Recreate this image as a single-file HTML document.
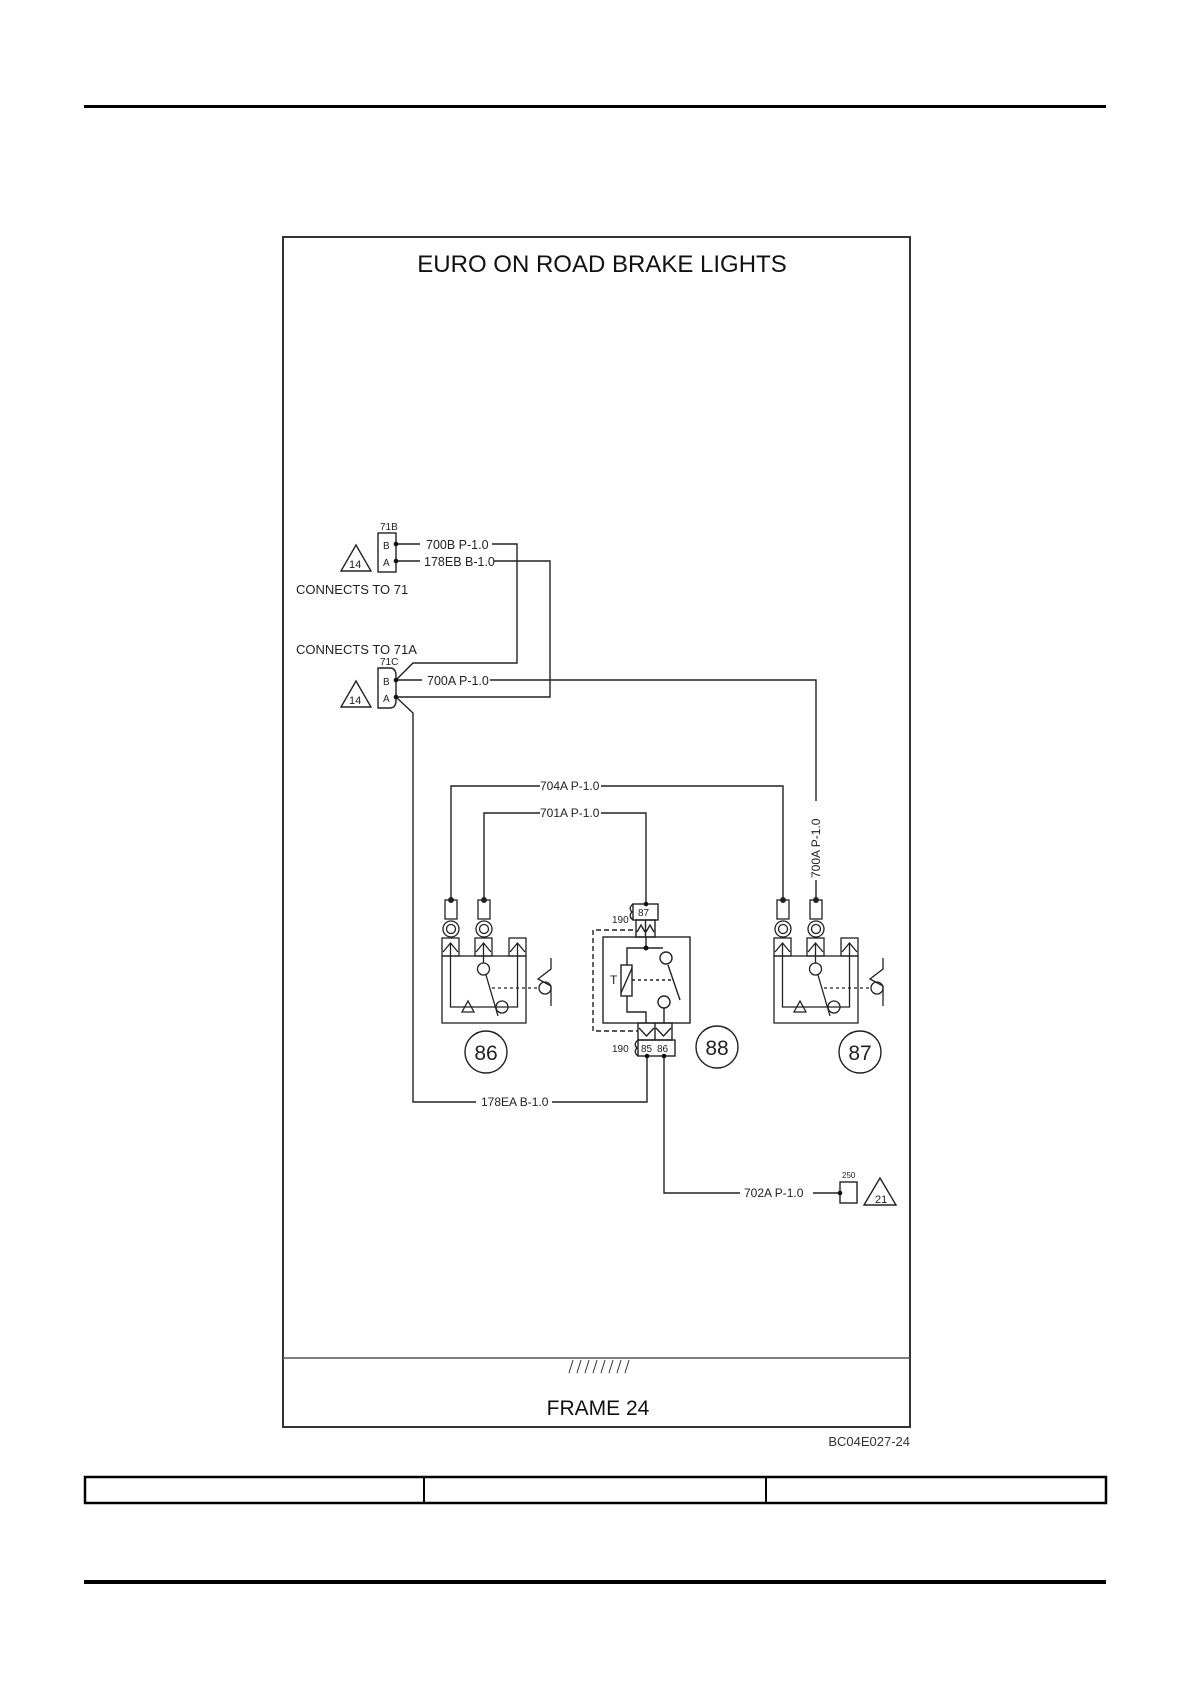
<!DOCTYPE html>
<html><head><meta charset="utf-8"><style>
html,body{margin:0;padding:0;background:#fff;}
svg{display:block;font-family:"Liberation Sans",sans-serif;}
</style></head><body>
<svg width="1190" height="1684" viewBox="0 0 1190 1684" xmlns="http://www.w3.org/2000/svg">
<defs>
<g id="lamp" fill="none" stroke="#222" stroke-width="1.3">
  <rect x="445" y="900" width="12" height="19" fill="#fff"/>
  <circle cx="451" cy="929" r="8" fill="#fff"/><circle cx="451" cy="929" r="4.5"/>
  <rect x="478" y="900" width="12" height="19" fill="#fff"/>
  <circle cx="484" cy="929" r="8" fill="#fff"/><circle cx="484" cy="929" r="4.5"/>
  <circle cx="451" cy="900" r="2.3" fill="#222"/><circle cx="484" cy="900" r="2.3" fill="#222"/>
  <rect x="442" y="938" width="17" height="18"/><rect x="475" y="938" width="17" height="18"/><rect x="509" y="938" width="17" height="18"/>
  <path d="M443 952 L450.5 943 L458 952 M476 952 L483.5 943 L491 952 M510 952 L517.5 943 L525 952"/>
  <path d="M450.5 943 V1007 H517.5 V943 M483.5 943 V963"/>
  <rect x="442" y="956" width="84" height="67"/>
  <path d="M462 1012 L468 1001 L474 1012 Z"/>
  <circle cx="483.5" cy="969" r="6"/>
  <path d="M486 975 L498 1016"/>
  <circle cx="502" cy="1007" r="6"/>
  <path d="M492 988 H539" stroke-dasharray="3,3"/>
  <circle cx="545" cy="988" r="6"/>
  <path d="M551 958 V969 L538 979 L551 986 V1006"/>
</g>
</defs>
<rect x="84" y="105" width="1022" height="3" fill="#000"/>
<rect x="84" y="1580" width="1022" height="4" fill="#000"/>
<rect x="85" y="1477" width="1021" height="26" fill="none" stroke="#000" stroke-width="2.5"/>
<line x1="424" y1="1477" x2="424" y2="1503" stroke="#000" stroke-width="2"/>
<line x1="766" y1="1477" x2="766" y2="1503" stroke="#000" stroke-width="2"/>

<rect x="283" y="237" width="627" height="1190" fill="none" stroke="#333" stroke-width="2"/>
<line x1="283" y1="1358" x2="910" y2="1358" stroke="#555" stroke-width="1.5"/>
<text x="602" y="272" font-size="24" text-anchor="middle" fill="#111">EURO ON ROAD BRAKE LIGHTS</text>
<g stroke="#333" stroke-width="1">
<path d="M569 1373 L573 1360 M577 1373 L581 1360 M585 1373 L589 1360 M593 1373 L597 1360 M601 1373 L605 1360 M609 1373 L613 1360 M617 1373 L621 1360 M625 1373 L629 1360"/>
</g>
<text x="598" y="1415" font-size="21" text-anchor="middle" fill="#111">FRAME 24</text>
<text x="910" y="1446" font-size="13" text-anchor="end" fill="#333">BC04E027-24</text>

<g fill="none" stroke="#222" stroke-width="1.4">
<rect x="378" y="533" width="18" height="39"/>
<path d="M378 668 H390 Q396 668 396 676 V700 Q396 708 390 708 H378 Z"/>
<path d="M341 571 L356 545 L371 571 Z"/>
<path d="M341 707 L356 681 L371 707 Z"/>
<path d="M864 1205 L880 1178 L896 1205 Z"/>
<path d="M396 544 H420 M492 544 H517 V663 H413 L396 680"/>
<path d="M396 561 H420 M494 561 H550 V697 H396"/>
<path d="M396 680 H422 M490 680 H816 V801 M816 880 V900"/>
<path d="M396 697 L413 713 V1102 H476 M552 1102 H647 V1056"/>
<path d="M451 900 V786 H540 M601 786 H783 V900"/>
<path d="M484 900 V813 H540 M601 813 H646 V904"/>
<path d="M664 1056 V1193 H740 M813 1193 H840"/>
<rect x="840" y="1182" width="17" height="21"/>
<rect x="633" y="904" width="25" height="16"/>
<path d="M633 904 Q628 908 632 912 Q628 916 633 920"/>
<rect x="636" y="920" width="19" height="17"/><path d="M645.5 920 V937 M637 932 L641 925 L645 932 M646 932 L650 925 L654 932"/>
<rect x="603" y="937" width="87" height="86"/>
<path d="M646 937 V948 M646 948 H627 V965 M627 996 V1012 H646 V1023 M646 948 H663 M664 1008 V1023"/>
<rect x="621" y="965" width="11" height="31"/><path d="M621 993 L632 968"/>
<circle cx="666" cy="958" r="6"/>
<path d="M668 965 L680 1000"/>
<circle cx="664" cy="1002" r="6"/>
<path d="M632 980 H672" stroke-dasharray="3,3"/>
<path d="M633 930 H593 V1031 H638" stroke-dasharray="5,3"/>
<rect x="638" y="1023" width="34" height="17"/><path d="M655 1023 V1040 M639 1028 L646.5 1036 L654 1028 M656 1028 L663.5 1036 L671 1028"/>
<rect x="638" y="1040" width="37" height="16"/>
<path d="M638 1040 Q633 1044 637 1048 Q633 1052 638 1056"/>
<circle cx="486" cy="1052" r="21"/>
<circle cx="717" cy="1047" r="21"/>
<circle cx="860" cy="1052" r="21"/>
</g>
<g fill="#111">
<circle cx="396" cy="544" r="2.3"/><circle cx="396" cy="561" r="2.3"/>
<circle cx="396" cy="680" r="2.3"/><circle cx="396" cy="697" r="2.3"/>
<circle cx="646" cy="904" r="2.3"/><circle cx="646" cy="948" r="2.5"/>
<circle cx="647" cy="1056" r="2.3"/><circle cx="664" cy="1056" r="2.3"/>
<circle cx="840" cy="1193" r="2.3"/>
</g>
<use href="#lamp"/>
<use href="#lamp" transform="translate(332,0)"/>

<g fill="#222" font-size="12">
<text x="380" y="530" font-size="10">71B</text>
<text x="380" y="665" font-size="10">71C</text>
<text x="383" y="549" font-size="10">B</text><text x="383" y="566" font-size="10">A</text>
<text x="383" y="685" font-size="10">B</text><text x="383" y="702" font-size="10">A</text>
<text x="349" y="568" font-size="11">14</text>
<text x="349" y="704" font-size="11">14</text>
<text x="875" y="1203" font-size="11">21</text>
<text x="296" y="594" font-size="13">CONNECTS TO 71</text>
<text x="296" y="654" font-size="13">CONNECTS TO 71A</text>
<text x="426" y="549" font-size="12.5">700B P-1.0</text>
<text x="424" y="566" font-size="12.5">178EB B-1.0</text>
<text x="427" y="685" font-size="12.5">700A P-1.0</text>
<text x="540" y="790">704A P-1.0</text>
<text x="540" y="817">701A P-1.0</text>
<text x="481" y="1106">178EA B-1.0</text>
<text x="744" y="1197">702A P-1.0</text>
<text x="820" y="878" transform="rotate(-90 820 878)">700A P-1.0</text>
<text x="842" y="1178" font-size="8">250</text>
<text x="612" y="923" font-size="10">190</text>
<text x="638" y="916" font-size="10">87</text>
<text x="612" y="1052" font-size="10">190</text>
<text x="641" y="1052" font-size="10">85</text>
<text x="657" y="1052" font-size="10">86</text>
<text x="610" y="984" font-size="12">T</text>
<text x="486" y="1060" font-size="21" text-anchor="middle">86</text>
<text x="717" y="1055" font-size="21" text-anchor="middle">88</text>
<text x="860" y="1060" font-size="21" text-anchor="middle">87</text>
</g>
</svg>
</body></html>
